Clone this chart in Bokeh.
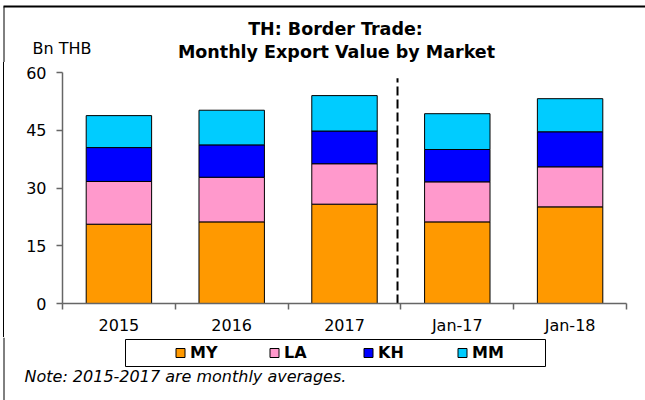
from bokeh.plotting import figure
from bokeh.layouts import column, row
from bokeh.models import ColumnDataSource, Range1d, FixedTicker, CustomJSTickFormatter, Div
from bokeh.core.properties import value
from bokeh.embed import file_html
from bokeh.resources import INLINE

# ---- data ----
categories = ["2015", "2016", "2017", "Jan-17", "Jan-18"]
markets = ["MY", "LA", "KH", "MM"]
MY = [20.6, 21.2, 25.8, 21.2, 25.1]
LA = [11.1, 11.6, 10.5, 10.4, 10.4]
KH = [8.8, 8.4, 8.5, 8.4, 9.1]
MM = [8.3, 9.0, 9.2, 9.3, 8.6]
y_ticks = [0, 15, 30, 45, 60]
colors = ["#FF9900", "#FF99CC", "#0000FF", "#00CCFF"]

title_lines = ["TH: Border Trade:", "Monthly Export Value by Market"]
y_unit = "Bn THB"
note = "Note: 2015-2017 are monthly averages."
divider_x = 2.97      # separates annual averages from monthly values
divider_top = 58.5

FONT = "DejaVu Sans"
W, H = 645, 400
TOP_H = 62          # header strip height
FRAME_TOP, FRAME_BOTTOM = 72, 303
XAXIS_H = 34
MID_H = FRAME_BOTTOM - TOP_H + XAXIS_H   # chart strip height
BOT_H = H - TOP_H - MID_H
STRIP_W = 20
BASE = -6           # baseline correction for text glyphs


def blank(width, height, x_range, y_range):
    f = figure(width=width, height=height, output_backend="svg", toolbar_location=None,
               title=None, x_axis_type=None, y_axis_type=None, min_border=0,
               x_range=x_range, y_range=y_range)
    f.outline_line_color = None
    f.grid.visible = False
    f.background_fill_color = "white"
    f.border_fill_color = "white"
    return f


# ---- header: title, unit, frame edges (page pixel coordinates) ----
top = blank(W, TOP_H, Range1d(0, W), Range1d(TOP_H, 0))
top.segment(x0=[3], y0=[6], x1=[W], y1=[6], line_color="black", line_width=2)
top.segment(x0=[3.5], y0=[6], x1=[3.5], y1=[TOP_H], line_color="black", line_width=1)
top.text(x=[335, 336], y=[34 + BASE, 57 + BASE], text=title_lines, text_font=value(FONT),
         text_font_size=value("17.5px"), text_font_style="bold", text_align="center",
         text_baseline="alphabetic", text_color="black")
top.text(x=[32], y=[54 + BASE], text=[y_unit], text_font=value(FONT), text_font_size=value("16px"),
         text_align="left", text_baseline="alphabetic", text_color="black")

# ---- left edge strip (plain block with a 1px rule at x=3) ----
strip = Div(text="", width=STRIP_W, height=MID_H, margin=0,
            styles={"background": "linear-gradient(to right, #ffffff 3px, #000000 3px, "
                                  "#000000 4px, #ffffff 4px)",
                    "padding": "0", "margin": "0"})

# ---- main chart ----
xs = [i + 0.5 for i in range(len(categories))]
source = ColumnDataSource(dict(x=xs, MY=MY, LA=LA, KH=KH, MM=MM))

p = figure(width=W - STRIP_W, height=MID_H, output_backend="svg", toolbar_location=None,
           title=None,
           x_range=Range1d(0, len(categories)), y_range=Range1d(0, 60),
           min_border_left=62 - STRIP_W, min_border_right=19, min_border_top=FRAME_TOP - TOP_H,
           min_border_bottom=XAXIS_H)
p.outline_line_color = None
p.grid.visible = False
p.background_fill_color = "white"
p.border_fill_color = "white"

renderers = p.vbar_stack(markets, x="x", width=0.58, color=colors, line_color="black",
                         line_width=1, source=source)

p.segment(x0=[divider_x], y0=[0], x1=[divider_x], y1=[divider_top],
          line_color="black", line_width=2, line_dash="9 4")

axis_color = "#666666"
p.xaxis.ticker = FixedTicker(ticks=xs, minor_ticks=list(range(len(categories) + 1)))
p.xaxis.formatter = CustomJSTickFormatter(args=dict(labels=categories),
                                          code="return labels[Math.floor(tick)];")
p.xaxis.major_tick_in = 0
p.xaxis.major_tick_out = 0
p.xaxis.minor_tick_in = 0
p.xaxis.minor_tick_out = 6
p.xaxis.major_label_standoff = 6

p.yaxis.ticker = FixedTicker(ticks=y_ticks, minor_ticks=[])
p.yaxis.major_tick_in = 0
p.yaxis.major_tick_out = 6
p.yaxis.minor_tick_in = 0
p.yaxis.minor_tick_out = 0
p.yaxis.major_label_standoff = 10

for ax in (p.xaxis, p.yaxis):
    ax.axis_line_color = axis_color
    ax.axis_line_width = 1.5
    ax.major_tick_line_color = axis_color
    ax.major_tick_line_width = 1.5
    ax.minor_tick_line_color = axis_color
    ax.minor_tick_line_width = 1.5
    ax.major_label_text_font = FONT
    ax.major_label_text_font_size = "16px"
    ax.major_label_text_color = "black"

# ---- footer: legend and note (page pixel coordinates) ----
y0 = TOP_H + MID_H
bot = blank(W, BOT_H, Range1d(0, W), Range1d(H, y0))
bot.segment(x0=[3.5], y0=[y0], x1=[3.5], y1=[H], line_color="black", line_width=1)

LEG_LEFT, LEG_RIGHT, LEG_TOP, LEG_BOTTOM = 125, 545, 339, 366
leg_mid = (LEG_TOP + LEG_BOTTOM) / 2
bot.rect(x=[(LEG_LEFT + LEG_RIGHT) / 2], y=[leg_mid], width=LEG_RIGHT - LEG_LEFT,
         height=LEG_BOTTOM - LEG_TOP, fill_color="white", line_color="black", line_width=1)
first_glyph, step = 180, 94
gx = [first_glyph + step * i for i in range(len(markets))]
bot.rect(x=gx, y=[leg_mid] * len(markets), width=9, height=9, fill_color=colors,
         line_color="black", line_width=1)
bot.text(x=[g + 9.5 for g in gx], y=[leg_mid + 5.8 + BASE] * len(markets), text=markets,
         text_font=value(FONT), text_font_size=value("16px"), text_font_style="bold",
         text_align="left", text_baseline="alphabetic", text_color="black")

bot.text(x=[24], y=[382 + BASE], text=[note], text_font=value(FONT), text_font_size=value("16px"),
         text_font_style="italic", text_align="left", text_baseline="alphabetic",
         text_color="black")

layout = column(top, row(strip, p, spacing=0), bot, spacing=0)
open("out.html", "w").write(file_html(layout, INLINE))
